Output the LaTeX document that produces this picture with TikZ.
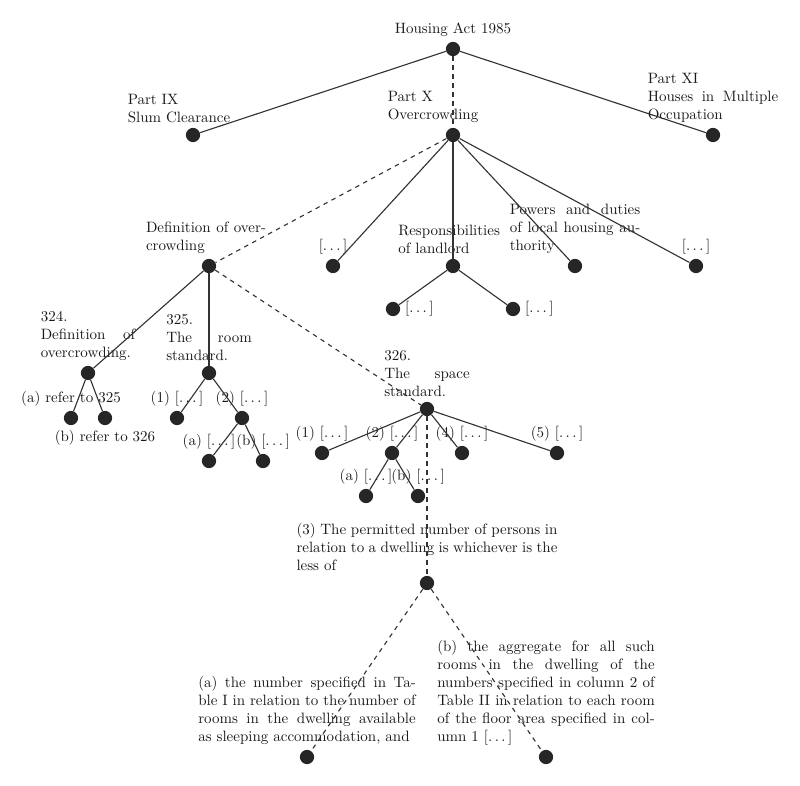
\documentclass[tikz,border=0pt]{standalone}
\usetikzlibrary{positioning}
\tolerance=10000
\newcommand{\elide}{[.\,.\,.\,]}
\tikzset{
  dot/.style={circle, fill=black!85, minimum size=9.5pt, inner sep=0pt},
  lbl/.style={inner sep=1pt, text=black!90},
  txtbox/.style={lbl, align=justify, text width=#1},
  branch/.style={draw=black!80, line width=0.75pt},
  hl/.style={branch, dashed},
}
\begin{document}
\begin{tikzpicture}[x=0.6667pt, y=-0.6667pt]
  \useasboundingbox (0,0) rectangle (800,785);
  % dots with a short label above
  \foreach \name/\x/\y/\txt in {act/453/49/Housing Act 1985,
      d1/333/266/\elide, d2/696/266/\elide,
      a324/71/418/(a) refer to 325,
      c1/177/418/(1) \elide, c2/242/418/(2) \elide,
      c2a/209/461/(a) \elide, c2b/263/461/(b) \elide,
      e1/322/453/(1) \elide, e2/392/453/(2) \elide,
      e4/462/453/(4) \elide, e5/557/453/(5) \elide,
      e2a/366/496/(a) \elide, e2b/418/496/(b) \elide}{
    \node[dot] (\name) at (\x,\y) {};
    \node[lbl, above=2pt of \name] {\txt};
  }
  \node[dot] (b324) at (105,418) {};
  \node[lbl, below=2pt of b324] {(b) refer to 326};
  \node[dot] (resp1) at (393,309) {};
  \node[lbl, right=2pt of resp1] {\elide};
  \node[dot] (resp2) at (513,309) {};
  \node[lbl, right=2pt of resp2] {\elide};

  % parts of the act
  \node[dot] (p9) at (193,135) {};
  \node[txtbox=87pt, above=2pt of p9] {Part IX\\Slum Clearance};
  \node[dot] (p10) at (453,135) {};
  \node[txtbox=87pt, above=2pt of p10] {Part X\\Overcrowding};
  \node[dot] (p11) at (713,135) {};
  \node[txtbox=87pt, above=2pt of p11] {Part XI\\Houses in Multiple\linebreak Occupation};

  % Part X
  \node[dot] (def) at (209,266) {};
  \node[txtbox=80pt, above=2pt of def, xshift=-2pt] {Definition of over-\linebreak crowding};
  \node[dot] (resp) at (453,266) {};
  \node[txtbox=73pt, above=2pt of resp] {Responsibilities\linebreak of landlord};
  \node[dot] (pow) at (575,266) {};
  \node[txtbox=87pt, above=2pt of pow] {Powers and duties\linebreak of local housing au-\linebreak thority};

  % sections
  \node[dot] (s324) at (88,373) {};
  \node[txtbox=63pt, above=2pt of s324] {324.\\Definition of\linebreak overcrowding.};
  \node[dot] (s325) at (209,373) {};
  \node[txtbox=57pt, above=2pt of s325] {325.\\The room\linebreak standard.};
  \node[dot] (s326) at (427,409) {};
  \node[txtbox=57pt, above=2pt of s326] {326.\\The space\linebreak standard.};

  % 326 (3)
  \node[dot] (e3) at (427,583) {};
  \node[txtbox=174pt, above=2pt of e3] {(3) The permitted number of persons in\linebreak relation to a dwelling is whichever is the\linebreak less of};
  \node[dot] (fa) at (307,757) {};
  \node[txtbox=145pt, above=2pt of fa] {(a) the number specified in Ta-\linebreak ble I in relation to the number of\linebreak rooms in the dwelling available\linebreak as sleeping accommodation, and};
  \node[dot] (fb) at (546,757) {};
  \node[txtbox=145pt, above=2pt of fb] {(b) the aggregate for all such\linebreak rooms in the dwelling of the\linebreak numbers specified in column 2 of\linebreak Table II in relation to each room\linebreak of the floor area specified in col-\linebreak umn 1 \elide};

  % branches
  \foreach \a/\b in {act/p9, act/p11, p10/d1, p10/resp, p10/pow, p10/d2,
      resp/resp1, resp/resp2, def/s324, def/s325, s324/a324, s324/b324,
      s325/c1, s325/c2, c2/c2a, c2/c2b, s326/e1, s326/e2, s326/e4, s326/e5,
      e2/e2a, e2/e2b}
    \draw[branch] (\a) -- (\b);
  \foreach \a/\b in {act/p10, p10/def, def/s326, s326/e3, e3/fa, e3/fb}
    \draw[hl] (\a) -- (\b);
\end{tikzpicture}
\end{document}
